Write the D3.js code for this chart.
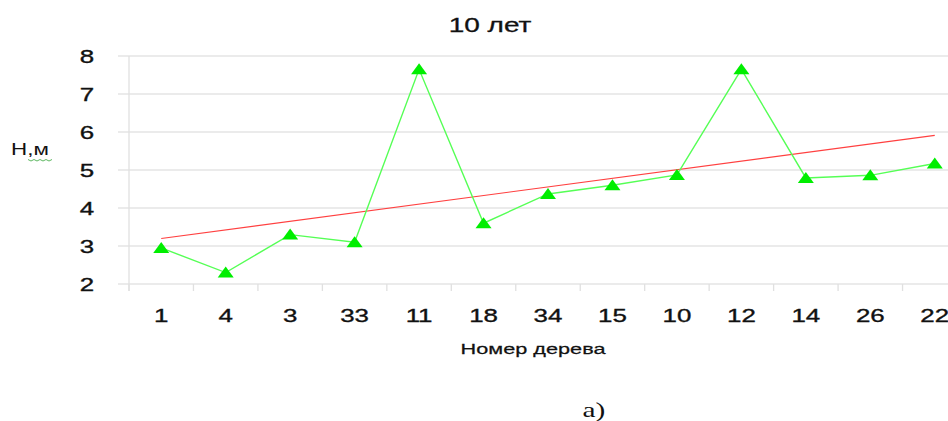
<!DOCTYPE html>
<html>
<head>
<meta charset="utf-8">
<script src="https://cdn.jsdelivr.net/npm/d3@7"></script>
<style>
  html, body { margin: 0; padding: 0; background: #fff; }
  svg { display: block; }
  text { font-family: "Liberation Sans", Arial, sans-serif; fill: #111; }
</style>
</head>
<body>
<svg id="chart" width="948" height="421"></svg>
<script>
// Tree numbers along the x axis and measured heights (m)
const trees = ["1", "4", "3", "33", "11", "18", "34", "15", "10", "12", "14", "26", "22"];
const heights = [2.95, 2.3, 3.3, 3.1, 7.65, 3.6, 4.37, 4.6, 4.87, 7.65, 4.79, 4.86, 5.17];
const yTicks = [2, 3, 4, 5, 6, 7, 8];

const title = "10 лет";
const xTitle = "Номер дерева";
const yTitle = "Н,м";
const caption = "а)";

const svg = d3.select("#chart");
const plotL = 129, plotR = 967, plotT = 56, plotB = 284;
const stretch = 1.4; // the chart's lettering is set wide

const x = d3.scaleBand().domain(trees).range([plotL, plotR]).padding(0);
const y = d3.scaleLinear().domain([2, 8]).range([plotB, plotT]);
const cx = d => x(d) + x.bandwidth() / 2;

// places wide text with its anchor point at (px, py)
function wide(sel, px, py) {
  return sel.attr("x", 0).attr("y", 0)
    .attr("transform", (d, i) => {
      const ax = typeof px === "function" ? px(d, i) : px;
      const ay = typeof py === "function" ? py(d, i) : py;
      return `translate(${ax},${ay}) scale(${stretch},1)`;
    });
}

// horizontal gridlines (extend slightly left of the axis like outward ticks)
svg.append("g")
  .selectAll("line")
  .data(yTicks)
  .join("line")
  .attr("x1", plotL - 11).attr("x2", 948)
  .attr("y1", d => y(d)).attr("y2", d => y(d))
  .attr("stroke", "#e4e4e4").attr("stroke-width", 1.3);

// vertical axis line
svg.append("line")
  .attr("x1", plotL).attr("x2", plotL)
  .attr("y1", plotT).attr("y2", plotB + 7)
  .attr("stroke", "#e0e0e0").attr("stroke-width", 1.3);

// x tick marks at category boundaries
const bounds = trees.map(t => x(t)).concat([plotR]);
svg.append("g")
  .selectAll("line")
  .data(bounds)
  .join("line")
  .attr("x1", d => d).attr("x2", d => d)
  .attr("y1", plotB).attr("y2", plotB + 7)
  .attr("stroke", "#e0e0e0").attr("stroke-width", 1.3);

// y tick labels
wide(svg.append("g")
  .selectAll("text")
  .data(yTicks)
  .join("text")
  .attr("text-anchor", "middle")
  .style("font-size", "18.5px")
  .style("stroke", "#111").style("stroke-width", 0.35)
  .text(d => d), 87, d => y(d) + 6.8);

// x tick labels
wide(svg.append("g")
  .selectAll("text")
  .data(trees)
  .join("text")
  .attr("text-anchor", "middle")
  .style("font-size", "18.5px")
  .style("stroke", "#111").style("stroke-width", 0.35)
  .text(d => d), d => cx(d), 322);

// linear trend of heights over category index
const n = heights.length;
const idx = d3.range(1, n + 1);
const mx = d3.mean(idx), my = d3.mean(heights);
const slope = d3.sum(idx, (i, k) => (i - mx) * (heights[k] - my)) / d3.sum(idx, i => (i - mx) ** 2);
const icpt = my - slope * mx;
const trend = [
  { t: trees[0], v: icpt + slope * 1 },
  { t: trees[n - 1], v: icpt + slope * n }
];
svg.append("path")
  .datum(trend)
  .attr("d", d3.line().x(d => cx(d.t)).y(d => y(d.v)))
  .attr("fill", "none").attr("stroke", "#ff4040").attr("stroke-width", 1.2);

// height series
const pts = trees.map((t, i) => ({ t, v: heights[i] }));
svg.append("path")
  .datum(pts)
  .attr("d", d3.line().x(d => cx(d.t)).y(d => y(d.v)))
  .attr("fill", "none").attr("stroke", "#55ff55").attr("stroke-width", 1.4);

svg.append("g")
  .selectAll("path")
  .data(pts)
  .join("path")
  .attr("transform", d => `translate(${cx(d.t)},${y(d.v)})`)
  .attr("d", "M0,-6 L8,5 L-8,5 Z")
  .attr("fill", "#00ee00");

// titles
wide(svg.append("text")
  .attr("text-anchor", "middle")
  .style("font-size", "20px")
  .style("stroke", "#111").style("stroke-width", 0.3)
  .text(title), 490, 32);

wide(svg.append("text")
  .attr("text-anchor", "middle")
  .style("font-size", "15.5px")
  .style("stroke", "#111").style("stroke-width", 0.25)
  .text(xTitle), 533, 354);

wide(svg.append("text")
  .style("font-size", "16px")
  .text(yTitle), 11, 155);

// spell-check squiggle under the unit
const wave = d3.range(0, 9).map(i => [28 + i * 3, 159.5 + (i % 2 ? 1.5 : 0)]);
svg.append("path")
  .attr("d", d3.line()(wave))
  .attr("fill", "none").attr("stroke", "#4caf50").attr("stroke-width", 0.9);

wide(svg.append("text")
  .attr("text-anchor", "middle")
  .style("font-family", "'Liberation Serif', 'Times New Roman', serif")
  .style("font-size", "21px")
  .text(caption), 594, 417);
</script>
</body>
</html>
